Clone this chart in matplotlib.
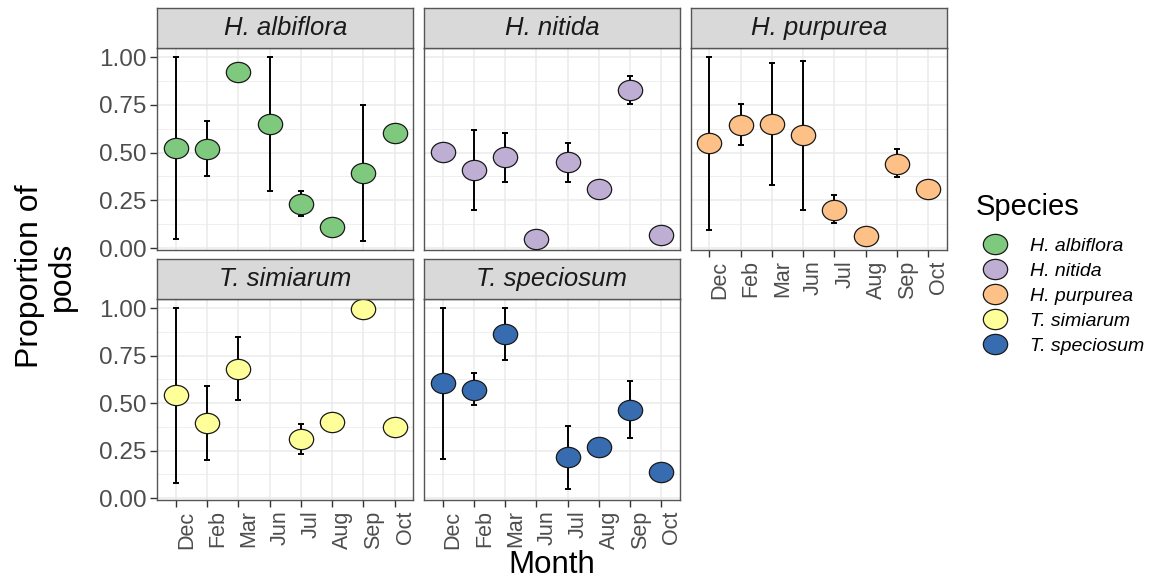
import matplotlib
matplotlib.use('Agg')
import matplotlib.pyplot as plt
import numpy as np
from matplotlib.path import Path
from matplotlib.transforms import Affine2D
from matplotlib.lines import Line2D

plt.rcParams['font.family'] = ['Liberation Sans', 'DejaVu Sans']

nan = np.nan
months = ['Dec', 'Feb', 'Mar', 'Jun', 'Jul', 'Aug', 'Sep', 'Oct']
species = ['H. albiflora', 'H. nitida', 'H. purpurea', 'T. simiarum', 'T. speciosum']
colors = ['#7FC97F', '#BEAED4', '#FDC086', '#FFFF99', '#386CB0']

# proportion of pods per month, with lower / upper bars (nan = none)
albiflora_mean = [0.524, 0.518, 0.923, 0.649, 0.232, 0.113, 0.393, 0.604]
albiflora_lo = [0.049, 0.377, nan, 0.298, 0.166, nan, 0.035, nan]
albiflora_hi = [1.00, 0.665, nan, 1.00, 0.298, nan, 0.749, nan]

nitida_mean = [0.501, 0.41, 0.476, 0.049, 0.45, 0.312, 0.827, 0.07]
nitida_lo = [nan, 0.202, 0.346, nan, 0.347, nan, 0.754, nan]
nitida_hi = [nan, 0.618, 0.602, nan, 0.551, nan, 0.90, nan]

purpurea_mean = [0.548, 0.647, 0.651, 0.592, 0.202, 0.063, 0.443, 0.309]
purpurea_lo = [0.097, 0.539, 0.333, 0.202, 0.131, nan, 0.372, nan]
purpurea_hi = [1.00, 0.755, 0.968, 0.982, 0.277, nan, 0.518, nan]

simiarum_mean = [0.541, 0.396, 0.681, nan, 0.309, 0.398, 0.995, 0.372]
simiarum_lo = [0.082, 0.202, 0.515, nan, 0.232, nan, nan, nan]
simiarum_hi = [1.00, 0.590, 0.846, nan, 0.389, nan, nan, nan]

speciosum_mean = [0.604, 0.571, 0.865, nan, 0.215, 0.27, 0.466, 0.136]
speciosum_lo = [0.207, 0.488, 0.729, nan, 0.05, nan, 0.317, nan]
speciosum_hi = [1.00, 0.656, 1.00, nan, 0.38, nan, 0.616, nan]

means = [albiflora_mean, nitida_mean, purpurea_mean, simiarum_mean, speciosum_mean]
lows = [albiflora_lo, nitida_lo, purpurea_lo, simiarum_lo, speciosum_lo]
highs = [albiflora_hi, nitida_hi, purpurea_hi, simiarum_hi, speciosum_hi]

W, H = 1158, 581
fig = plt.figure(figsize=(W / 100, H / 100), dpi=100)

def rect(x0, y0, x1, y1):
    return [x0 / W, 1 - y1 / H, (x1 - x0) / W, (y1 - y0) / H]

# slightly wide ellipse marker, like the reference
ellipse = Path.unit_circle().transformed(Affine2D().scale(1.2, 1.0))

cols = [(157.3, 413.3), (424.0, 680.0), (690.7, 946.7)]
rows = [(8.3, 48.0, 250.0), (259.3, 299.0, 500.0)]
positions = [(0, 0), (0, 1), (0, 2), (1, 0), (1, 1)]
x = np.arange(len(months))

for i, sp in enumerate(species):
    r, c = positions[i]
    x0, x1 = cols[c]
    st, top, bot = rows[r]
    ax = fig.add_axes(rect(x0, top, x1, bot))
    ax.set_xlim(-0.6, len(months) - 0.4)
    ax.set_ylim(-0.01, 1.048)
    ax.set_yticks([0, 0.25, 0.5, 0.75, 1.0])
    ax.set_yticks([0.125, 0.375, 0.625, 0.875], minor=True)
    ax.set_xticks(x)
    ax.grid(True, which='major', color='#EBEBEB', lw=1.1)
    ax.grid(True, which='minor', axis='y', color='#EBEBEB', lw=0.55)
    ax.set_axisbelow(True)
    for s in ax.spines.values():
        s.set_color('#555555')
        s.set_linewidth(1.0)

    m = np.array(means[i])
    lo = np.array(lows[i])
    hi = np.array(highs[i])
    ok = ~np.isnan(lo)
    ax.errorbar(x[ok], m[ok], yerr=[m[ok] - lo[ok], hi[ok] - m[ok]], fmt='none',
                ecolor='black', elinewidth=1.4, capsize=2.3, capthick=1.4, zorder=2)
    ax.plot(x, m, ls='none', marker=ellipse, ms=17.5, mfc=colors[i], mec='#1A1A1A',
            mew=0.9, zorder=3)

    ax.tick_params(which='major', length=5, width=1, color='#333333',
                   labelcolor='#4D4D4D', pad=3)
    ax.tick_params(axis='y', labelsize=17.5)
    ax.tick_params(axis='x', labelsize=15.5, pad=2.5)
    ax.tick_params(which='minor', length=0)
    if c == 0:
        ax.set_yticklabels(['0.00', '0.25', '0.50', '0.75', '1.00'])
    else:
        ax.tick_params(axis='y', left=False, labelleft=False)
    if r == 1 or c == 2:
        ax.set_xticklabels(months, rotation=90, ha='left', va='top')
    else:
        ax.tick_params(axis='x', bottom=False, labelbottom=False)

    sax = fig.add_axes(rect(x0, st, x1, top))
    sax.set_facecolor('#D9D9D9')
    sax.set_xticks([])
    sax.set_yticks([])
    for s in sax.spines.values():
        s.set_color('#555555')
        s.set_linewidth(1.0)
    sax.text(0.5, 0.5, sp, transform=sax.transAxes, ha='center', va='center',
             fontsize=18.5, style='italic', color='#1A1A1A')

fig.text(46 / W, 1 - 276 / H, 'Proportion of\npods', rotation=90, ha='center',
         va='center', fontsize=23, multialignment='center', linespacing=1.05)
fig.text(552 / W, 1 - 565 / H, 'Month', ha='center', va='center', fontsize=22.5)

handles = [Line2D([], [], ls='none', marker=ellipse, ms=17.5, mfc=col, mec='#1A1A1A',
                  mew=0.9) for col in colors]
leg = fig.legend(handles, species, loc='upper left', bbox_to_anchor=(968 / W, 1 - 185 / H),
                 frameon=False, title='Species', title_fontsize=21, prop={'size': 14, 'style': 'italic'},
                 handletextpad=0.8, labelspacing=0.38, borderaxespad=0)
leg._legend_box.align = 'left'
leg._legend_box.sep = 12

fig.savefig('out.png', dpi=100)
